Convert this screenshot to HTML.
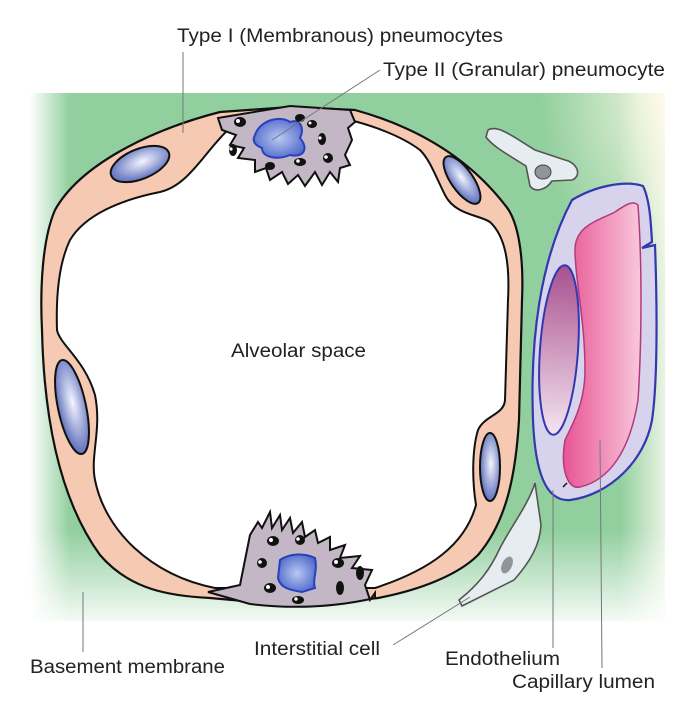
<!DOCTYPE html>
<html><head><meta charset="utf-8"><style>
html,body{margin:0;padding:0;background:#fff;}
svg{display:block;}
text{font-family:"Liberation Sans",sans-serif;fill:#222;}
</style></head><body>
<svg width="680" height="704" viewBox="0 0 680 704" xmlns="http://www.w3.org/2000/svg">
<defs>
<linearGradient id="gl" x1="0" x2="1" y1="0" y2="0">
<stop offset="0" stop-color="#fff" stop-opacity="1"/><stop offset="1" stop-color="#fff" stop-opacity="0"/></linearGradient>
<linearGradient id="gr" x1="0" x2="1" y1="0" y2="0">
<stop offset="0" stop-color="#fafaf0" stop-opacity="0"/><stop offset="1" stop-color="#fafaf0" stop-opacity="0.85"/></linearGradient>
<linearGradient id="gb" x1="0" x2="0" y1="0" y2="1">
<stop offset="0" stop-color="#fff" stop-opacity="0"/><stop offset="1" stop-color="#fff" stop-opacity="0.9"/></linearGradient>
<radialGradient id="gtr" cx="1" cy="0" r="1">
<stop offset="0" stop-color="#fffbe8" stop-opacity="0.9"/><stop offset="1" stop-color="#fffbe8" stop-opacity="0"/></radialGradient>
<radialGradient id="nuc" cx="0.55" cy="0.45" r="0.6">
<stop offset="0" stop-color="#f4f6ff"/><stop offset="1" stop-color="#5466b8"/></radialGradient>
<radialGradient id="nuc2" cx="0.5" cy="0.5" r="0.6">
<stop offset="0" stop-color="#b8c8f0"/><stop offset="1" stop-color="#4a64c8"/></radialGradient>
<linearGradient id="pk" x1="0" x2="1" y1="0" y2="0">
<stop offset="0" stop-color="#e85594"/><stop offset="1" stop-color="#f8c8dc"/></linearGradient>
<linearGradient id="pu" x1="0" x2="0" y1="0" y2="1">
<stop offset="0" stop-color="#a8508e"/><stop offset="1" stop-color="#f4e4f0"/></linearGradient>
</defs>

<rect x="30" y="93" width="635" height="528" fill="#91cf9e"/>
<rect x="30" y="93" width="40" height="528" fill="url(#gl)"/>
<rect x="620" y="93" width="45" height="528" fill="url(#gr)"/>
<rect x="30" y="530" width="635" height="91" fill="url(#gb)"/>
<rect x="540" y="93" width="125" height="200" fill="url(#gtr)"/>

<!-- ring -->
<path d="M220,112 C150,130 80,165 55,210 C42,240 40,290 42,330 C44,420 60,500 100,555 C130,590 170,596 210,598 L300,606 L378,598 C420,590 458,575 478,555 C508,520 516,470 519,420 L522,300 C524,255 518,220 505,205 C470,160 420,128 355,110 L290,107 Z" fill="#f5c9b2" stroke="#111" stroke-width="2.2"/>
<path d="M232,126 C205,150 190,185 160,192 C120,200 85,215 70,240 C58,265 56,300 57,330 C60,345 85,360 95,395 C102,430 90,455 95,480 C105,530 150,575 215,588 L375,588 C430,570 465,545 476,505 C472,480 472,450 478,430 C485,415 504,415 505,400 L508,300 C510,262 505,236 490,222 C480,215 455,215 445,195 C435,175 430,160 420,150 C400,135 370,125 350,120 Z" fill="#fff" stroke="#111" stroke-width="2"/>
<!-- nuclei -->
<ellipse cx="140" cy="164" rx="31" ry="15" transform="rotate(-22 140 164)" fill="url(#nuc)" stroke="#111" stroke-width="2"/>
<ellipse cx="462" cy="180" rx="11" ry="28" transform="rotate(-35 462 180)" fill="url(#nuc)" stroke="#111" stroke-width="2"/>
<ellipse cx="72" cy="407" rx="14" ry="48" transform="rotate(-12 72 407)" fill="url(#nuc)" stroke="#111" stroke-width="2"/>
<ellipse cx="490" cy="467" rx="10" ry="34" fill="url(#nuc)" stroke="#111" stroke-width="2"/>

<!-- top type II cell -->
<path d="M218,118 L290,106 L350,110 L355,122 L348,128 L352,140 L345,155 L350,165 L340,168 L338,182 L330,172 L322,185 L315,172 L305,186 L298,175 L288,184 L282,172 L270,180 L266,168 L255,172 L255,160 L238,158 L244,148 L230,145 L236,135 L222,130 Z" fill="#c3b7c6" stroke="#111" stroke-width="2"/>
<path d="M255,135 C260,120 280,115 290,122 C300,118 305,128 300,138 C310,150 302,158 290,155 C278,160 262,158 262,148 C254,145 252,140 255,135 Z" fill="url(#nuc2)" stroke="#2a3fc0" stroke-width="2"/>
<g fill="#111"><ellipse cx="240" cy="122" rx="6" ry="5"/><ellipse cx="300" cy="118" rx="5" ry="4"/><ellipse cx="312" cy="124" rx="5" ry="4"/><ellipse cx="233" cy="150" rx="4" ry="6"/><ellipse cx="322" cy="139" rx="4" ry="6"/><ellipse cx="300" cy="162" rx="6" ry="4"/><ellipse cx="328" cy="158" rx="5" ry="5"/><ellipse cx="270" cy="166" rx="5" ry="4"/></g>
<g fill="#fff"><circle cx="238" cy="121" r="2"/><circle cx="231" cy="149" r="1.6"/><circle cx="320" cy="138" r="1.6"/><circle cx="298" cy="161" r="1.8"/><circle cx="326" cy="157" r="1.8"/><circle cx="310" cy="123" r="1.5"/></g>

<!-- bottom type II cell -->
<path d="M208,592 L240,585 L245,560 L250,535 L258,522 L262,528 L270,512 L272,528 L280,515 L282,530 L290,518 L293,533 L302,522 L305,537 L315,530 L318,543 L330,537 L330,550 L345,545 L340,558 L360,556 L352,568 L372,570 L365,585 L370,600 L375,593 L375,598 C340,606 300,610 250,604 Z" fill="#c3b7c6" stroke="#111" stroke-width="2"/>
<path d="M280,560 C290,553 305,553 315,558 C318,570 312,580 315,588 L302,592 C290,590 280,588 278,578 Z" fill="url(#nuc2)" stroke="#2a3fc0" stroke-width="2"/>
<g fill="#111"><ellipse cx="273" cy="541" rx="6" ry="5"/><ellipse cx="300" cy="540" rx="5" ry="5"/><ellipse cx="262" cy="563" rx="5" ry="5"/><ellipse cx="338" cy="563" rx="6" ry="5"/><ellipse cx="360" cy="573" rx="4" ry="7"/><ellipse cx="270" cy="588" rx="6" ry="5"/><ellipse cx="340" cy="588" rx="4" ry="7"/><ellipse cx="298" cy="600" rx="6" ry="4"/></g>
<g fill="#fff"><circle cx="271" cy="540" r="2"/><circle cx="298" cy="539" r="1.8"/><circle cx="260" cy="562" r="1.8"/><circle cx="336" cy="562" r="2"/><circle cx="268" cy="587" r="2"/><circle cx="296" cy="599" r="1.7"/></g>

<!-- interstitial cells -->
<path d="M488,130 C498,124 515,138 535,150 L565,160 C578,163 582,176 572,180 L552,181 C546,190 535,193 530,186 L526,166 C510,156 492,146 486,137 Z" fill="#e6edf0" stroke="#555" stroke-width="1.6"/>
<ellipse cx="543" cy="172" rx="8" ry="7" fill="#8f9599" stroke="#444" stroke-width="1"/>
<path d="M535,483 L541,525 C540,545 530,562 514,580 L462,606 L459,600 C478,585 490,570 500,548 C512,525 528,505 535,483 Z" fill="#e6edf0" stroke="#555" stroke-width="1.6"/>
<ellipse cx="507" cy="565" rx="5" ry="9" transform="rotate(25 507 565)" fill="#8f9599"/>

<!-- capillary -->
<path d="M572,200 C595,186 625,180 643,186 C650,200 651,225 652,242 L642,248 L655,245 C657,300 658,380 652,420 C645,460 610,495 570,500 C545,502 535,470 533,420 C530,340 540,260 572,200 Z" fill="#d8d3ec" stroke="#3238b0" stroke-width="2.2"/>
<path d="M575,250 C575,225 600,220 615,212 C625,205 633,200 638,205 C642,260 642,340 638,400 C630,450 610,480 580,487 C568,490 560,470 565,440 C575,420 585,400 585,370 C585,320 575,280 575,250 Z" fill="url(#pk)" stroke="#b23a7c" stroke-width="1.5"/>
<ellipse cx="559" cy="350" rx="19" ry="85" transform="rotate(4 559 350)" fill="url(#pu)" stroke="#3238b0" stroke-width="2"/>
<path d="M563,487 L567,483" stroke="#111" stroke-width="1.5"/>

<g stroke="#777" stroke-width="1" fill="none">
<line x1="183" y1="52" x2="183" y2="133"/>
<line x1="380" y1="70" x2="272" y2="140"/>
<line x1="83" y1="592" x2="83" y2="652"/>
<line x1="393" y1="645" x2="470" y2="597"/>
<line x1="553" y1="490" x2="553" y2="648"/>
<line x1="600" y1="440" x2="602" y2="668"/>
</g>

<text x="177" y="42" font-size="19" textLength="326" lengthAdjust="spacingAndGlyphs">Type I (Membranous)  pneumocytes</text>
<text x="383" y="76" font-size="19" textLength="282" lengthAdjust="spacingAndGlyphs">Type II (Granular) pneumocyte</text>
<text x="231" y="357" font-size="19" textLength="135" lengthAdjust="spacingAndGlyphs">Alveolar space</text>
<text x="30" y="673" font-size="19" textLength="195" lengthAdjust="spacingAndGlyphs">Basement membrane</text>
<text x="254" y="655" font-size="19" textLength="126" lengthAdjust="spacingAndGlyphs">Interstitial cell</text>
<text x="445" y="665" font-size="19" textLength="115" lengthAdjust="spacingAndGlyphs">Endothelium</text>
<text x="512" y="688" font-size="19" textLength="143" lengthAdjust="spacingAndGlyphs">Capillary lumen</text>
</svg>
</body></html>
